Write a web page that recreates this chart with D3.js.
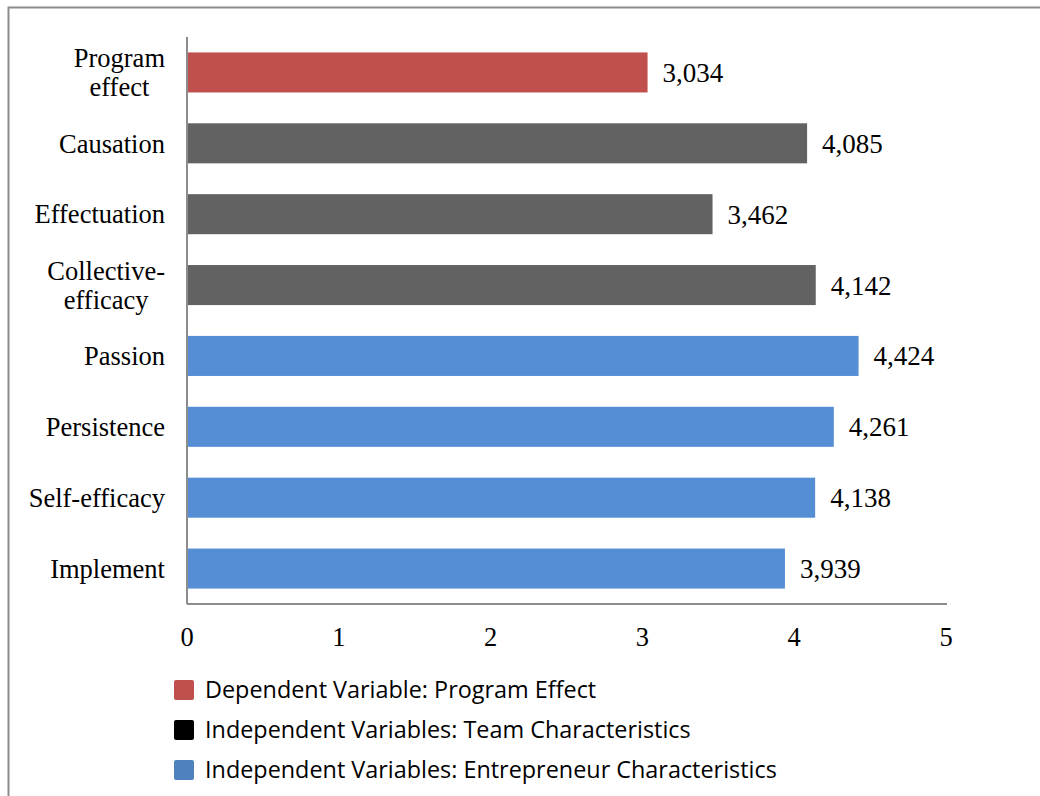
<!DOCTYPE html>
<html>
<head>
<meta charset="utf-8">
<script src="https://cdn.jsdelivr.net/npm/d3@7"></script>
<style>
  body { margin: 0; background: #fff; }
  svg text { fill: #000; }
</style>
</head>
<body>
<div id="chart"></div>
<script>
// categories top to bottom
const categories = ["Program effect", "Causation", "Effectuation", "Collective-efficacy",
                    "Passion", "Persistence", "Self-efficacy", "Implement"];
const labelLines = [["Program", "effect"], ["Causation"], ["Effectuation"], ["Collective-", "efficacy"],
                    ["Passion"], ["Persistence"], ["Self-efficacy"], ["Implement"]];
const values = [3.034, 4.085, 3.462, 4.142, 4.424, 4.261, 4.138, 3.939];
const groups = ["dep", "team", "team", "team", "ent", "ent", "ent", "ent"];
const xTicks = [0, 1, 2, 3, 4, 5];
const legendLabels = ["Dependent Variable: Program Effect",
                      "Independent Variables: Team Characteristics",
                      "Independent Variables: Entrepreneur Characteristics"];

const width = 1040, height = 796,
    margin = {top: 37, left: 187, right: 94, bottom: 192};

const barColor = d3.scaleOrdinal()
    .domain(["dep", "team", "ent"])
    .range(["#c0504d", "#626262", "#558ed5"]);
const legendColor = ["#c0504d", "#000000", "#4f81bd"];

const svg = d3.select("#chart").append("svg")
    .attr("width", width)
    .attr("height", height);

// outer frame (runs off the right and bottom)
svg.append("rect")
    .attr("x", 8.5).attr("y", 7.5)
    .attr("width", 1040).attr("height", 800)
    .attr("fill", "none")
    .attr("stroke", "#8c8c8c")
    .attr("stroke-width", 2);

const xScale = d3.scaleLinear()
    .domain([0, 5])
    .range([margin.left, width - margin.right]);

const yScale = d3.scaleBand()
    .domain(categories)
    .range([margin.top, height - margin.bottom])
    .paddingInner(0.435)
    .paddingOuter(0.2175);

svg.selectAll("rect.bar")
    .data(values)
    .join("rect")
    .attr("class", "bar")
    .attr("x", xScale(0))
    .attr("y", (d, i) => yScale(categories[i]))
    .attr("width", d => xScale(d) - xScale(0))
    .attr("height", yScale.bandwidth())
    .attr("fill", (d, i) => barColor(groups[i]));

// value labels
svg.selectAll("text.value")
    .data(values)
    .join("text")
    .attr("class", "value")
    .attr("x", d => xScale(d) + 15)
    .attr("y", (d, i) => yScale(categories[i]) + yScale.bandwidth() / 2)
    .attr("dy", "0.35em")
    .style("font-family", "'Liberation Serif', 'Times New Roman', serif")
    .style("font-size", "27px")
    .text(d => d3.format(".3f")(d).replace(".", ","));

// axes lines
const axisY = height - margin.bottom;
svg.append("line")
    .attr("x1", xScale(0)).attr("x2", xScale(0))
    .attr("y1", margin.top).attr("y2", axisY)
    .attr("stroke", "#8c8c8c").attr("stroke-width", 2);
svg.append("line")
    .attr("x1", xScale(0)).attr("x2", xScale(5) + 1)
    .attr("y1", axisY).attr("y2", axisY)
    .attr("stroke", "#8c8c8c").attr("stroke-width", 2);

// x tick labels
svg.selectAll("text.tick")
    .data(xTicks)
    .join("text")
    .attr("class", "tick")
    .attr("x", d => xScale(d))
    .attr("y", axisY + 42)
    .attr("text-anchor", "middle")
    .style("font-family", "'Liberation Serif', 'Times New Roman', serif")
    .style("font-size", "26.5px")
    .text(d => d);

// category labels, wrapped lines centred on each other, right edge at the axis
const labelRight = margin.left - 22;
labelLines.forEach((lines, i) => {
    const g = svg.append("g");
    const cy = yScale(categories[i]) + yScale.bandwidth() / 2;
    const lh = 29;
    const texts = g.selectAll("text")
        .data(lines)
        .join("text")
        .attr("y", (d, j) => cy + (j - (lines.length - 1) / 2) * lh)
        .attr("dy", "0.35em")
        .style("font-family", "'Liberation Serif', 'Times New Roman', serif")
        .style("font-size", "26.5px")
        .text(d => d);
    let maxW = 0;
    texts.each(function() { maxW = Math.max(maxW, this.getComputedTextLength()); });
    texts.attr("x", labelRight - maxW / 2).attr("text-anchor", "middle");
});

// legend
const legend = svg.selectAll("g.legend")
    .data(legendLabels)
    .join("g")
    .attr("class", "legend")
    .attr("transform", (d, i) => `translate(174, ${690 + i * 40})`);

legend.append("rect")
    .attr("x", 0).attr("y", -10)
    .attr("width", 20).attr("height", 20)
    .attr("rx", 2)
    .attr("fill", (d, i) => legendColor[i]);

legend.append("text")
    .attr("x", 31)
    .attr("dy", "0.35em")
    .style("font-family", "'Open Sans', sans-serif")
    .style("font-size", "23.4px")
    .text(d => d);
</script>
</body>
</html>
